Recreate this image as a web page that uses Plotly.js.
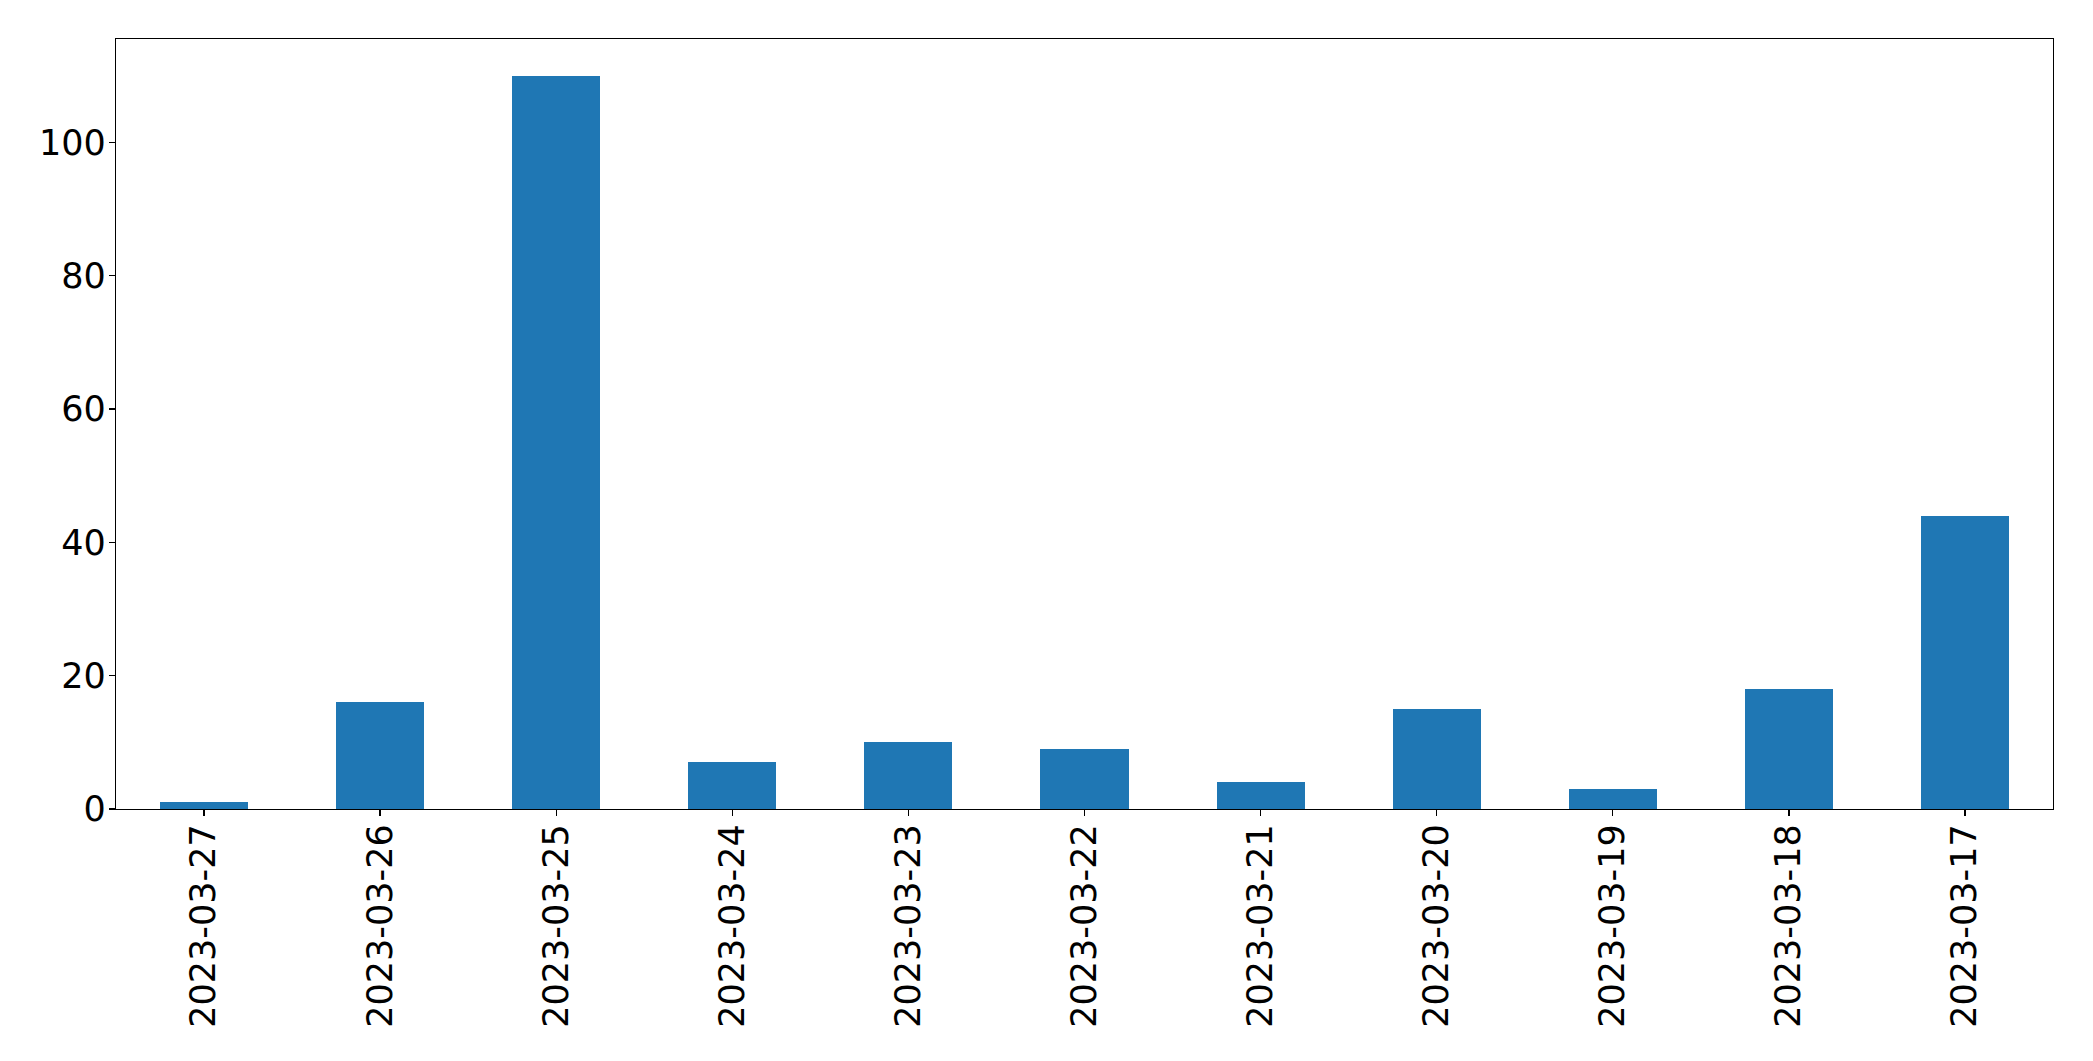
<!DOCTYPE html>
<html>
<head>
<meta charset="utf-8">
<script src="https://cdn.plot.ly/plotly-3.0.1.min.js"></script>
<style>html,body{margin:0;padding:0;background:#fff;}#chart{width:2093px;height:1061px;}</style>
</head>
<body>
<div id="chart"></div>
<script>
const dates = ["2023-03-27","2023-03-26","2023-03-25","2023-03-24","2023-03-23","2023-03-22","2023-03-21","2023-03-20","2023-03-19","2023-03-18","2023-03-17"];
const counts = [1, 16, 110, 7, 10, 9, 4, 15, 3, 18, 44];
const yTicks = [0, 20, 40, 60, 80, 100];

const trace = {
  type: 'bar',
  x: dates,
  y: counts,
  width: 0.5,
  marker: {color: '#1f77b4', line: {width: 0}},
  hoverinfo: 'x+y'
};

const font = {family: 'DejaVu Sans, sans-serif', size: 35, color: '#000'};

const layout = {
  width: 2093,
  height: 1061,
  margin: {l: 116, r: 40, t: 39, b: 252, pad: 0},
  paper_bgcolor: '#fff',
  plot_bgcolor: '#fff',
  showlegend: false,
  bargap: 0,
  font: font,
  xaxis: {
    type: 'category',
    range: [-0.5, dates.length - 0.5],
    tickangle: -90,
    ticks: 'outside',
    ticklen: 6,
    tickwidth: 1.3,
    tickcolor: '#000',
    ticklabelstandoff: -6,
    showline: true,
    linecolor: '#000',
    linewidth: 1.3,
    mirror: true,
    showgrid: false,
    zeroline: false,
    tickfont: font,
    automargin: false
  },
  yaxis: {
    range: [0, 115.5],
    tickvals: yTicks,
    ticktext: yTicks.map(String),
    ticks: 'outside',
    ticklen: 6,
    tickwidth: 1.3,
    tickcolor: '#000',
    ticklabelstandoff: -4,
    showline: true,
    linecolor: '#000',
    linewidth: 1.3,
    mirror: true,
    showgrid: false,
    zeroline: false,
    tickfont: font,
    automargin: false
  }
};

Plotly.newPlot('chart', [trace], layout, {displayModeBar: false, staticPlot: true});
</script>
</body>
</html>
